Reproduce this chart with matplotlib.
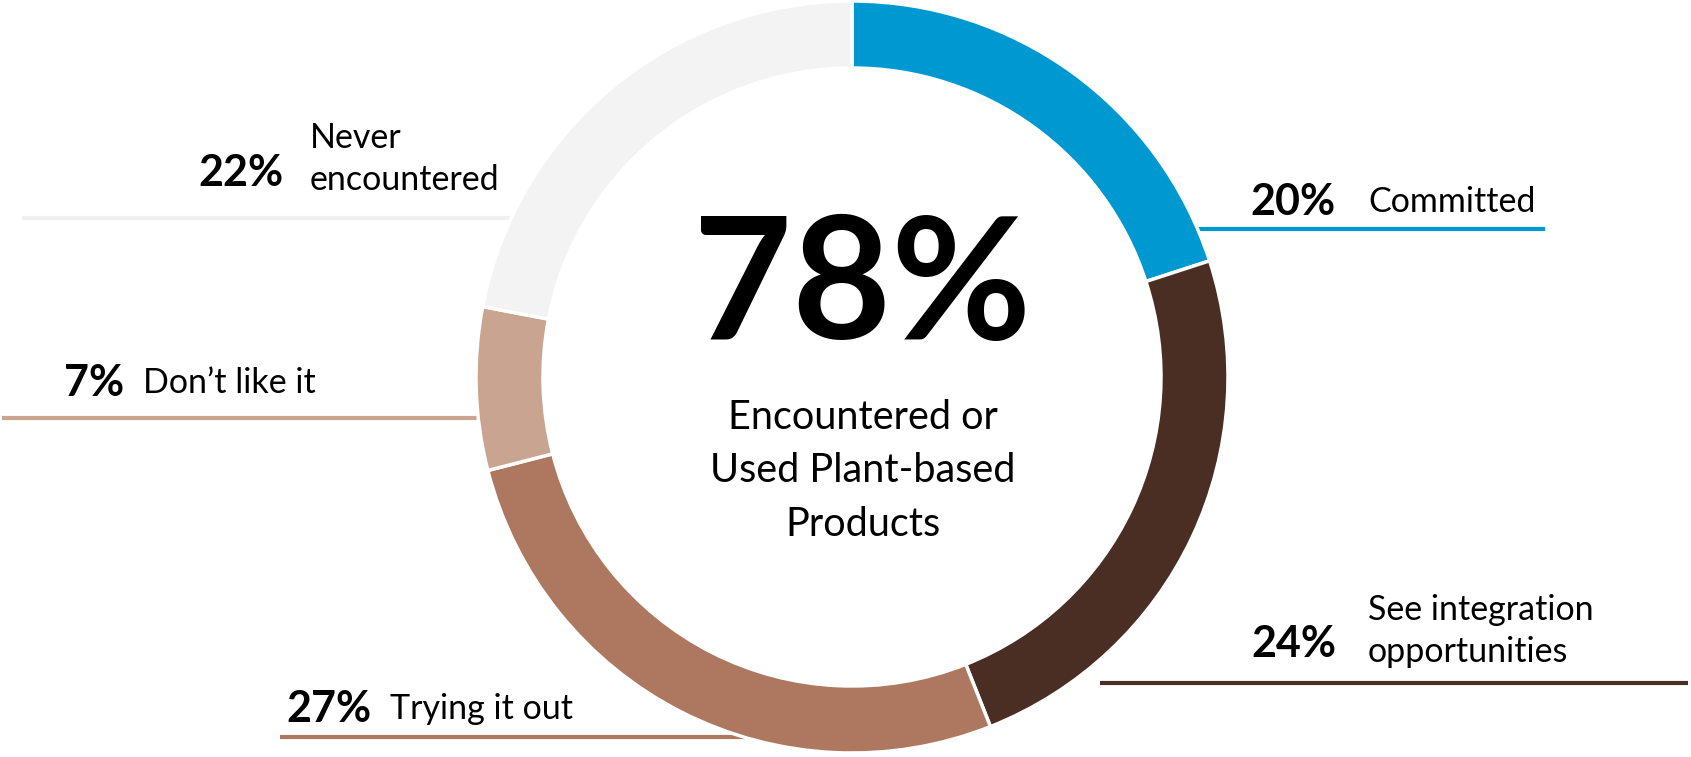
import matplotlib
matplotlib.use("Agg")
import matplotlib.pyplot as plt

# slices, clockwise from 12 o'clock
labels = ["Committed", "See integration\nopportunities", "Trying it out",
          "Don\u2019t like it", "Never\nencountered"]
shares = [20, 24, 27, 7, 22]
colors = ["#0098D1", "#4A2D23", "#AE7860", "#C9A591", "#F3F3F3"]
center_value = "78%"
center_caption = "Encountered or\nUsed Plant-based\nProducts"

W, H = 1691, 757
plt.rcParams['font.family'] = ['Lato', 'DejaVu Sans']

fig = plt.figure(figsize=(W / 100, H / 100), dpi=100)
ax = fig.add_axes([0, 0, 1, 1])

cx, cy = 852, H - 377
R, ring = 376, 67

ax.pie(shares, colors=colors, startangle=90, counterclock=False,
       radius=R, center=(cx, cy), frame=True,
       wedgeprops=dict(width=ring, edgecolor="white", linewidth=2.5))

# label rows: (pct x-right, pct y, text x-left, text y, line x0, line x1, line y)
rows = [
    (1336, 202, 1368, 202, 1150, 1545, 229),
    (1336, 644, 1368, 631, 1100, 1688, 683),
    (371, 709, 390, 709, 280, 760, 737),
    (124, 383, 143, 383, 2, 500, 418),
    (283, 173, 310, 159, 22, 540, 218),
]

for (px, py, tx, ty, lx0, lx1, ly), lab, s, col in zip(rows, labels, shares, colors):
    ax.plot([lx0, lx1], [H - ly, H - ly], color=col if col != "#F3F3F3" else "#F0F0F0",
            lw=3, zorder=0, solid_capstyle="butt")
    ax.text(px, H - py, f"{s}%", ha="right", va="center", fontsize=31,
            fontweight="bold", color="black")
    ax.text(tx, H - ty, lab, ha="left", va="center", fontsize=24.5,
            color="black", linespacing=1.37)

ax.text(cx + 10, H - 290, center_value, ha="center", va="center",
        fontsize=123, fontweight="bold", color="black")
ax.text(cx + 11, H - 471, center_caption, ha="center", va="center",
        fontsize=28.5, color="black", linespacing=1.55)

ax.set_xlim(0, W)
ax.set_ylim(0, H)
ax.set_aspect("equal")
ax.axis("off")

fig.savefig("out.png", dpi=100, facecolor="white")
